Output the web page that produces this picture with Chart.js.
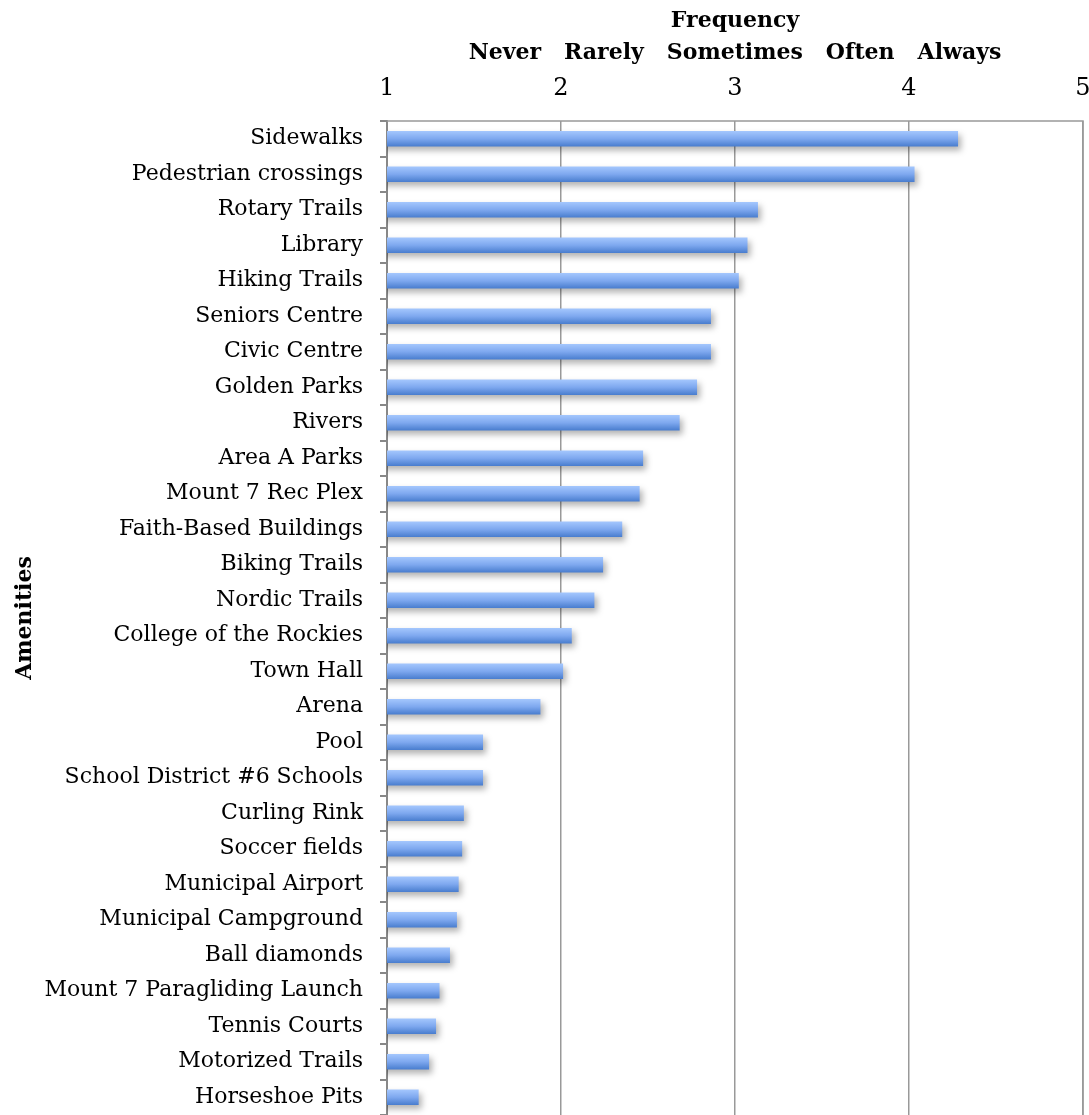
<!DOCTYPE html>
<html>
<head>
<meta charset="utf-8">
<script src="https://cdn.jsdelivr.net/npm/chart.js@4/dist/chart.umd.min.js"></script>
<style>
  html, body { margin: 0; padding: 0; background: #fff; }
  #wrap { width: 1089px; height: 1115px; }
</style>
</head>
<body>
<div id="wrap"><canvas id="myChart" width="1089" height="1115"></canvas></div>
<script>
const amenities = [
  'Sidewalks', 'Pedestrian crossings', 'Rotary Trails', 'Library', 'Hiking Trails',
  'Seniors Centre', 'Civic Centre', 'Golden Parks', 'Rivers', 'Area A Parks',
  'Mount 7 Rec Plex', 'Faith-Based Buildings', 'Biking Trails', 'Nordic Trails',
  'College of the Rockies', 'Town Hall', 'Arena', 'Pool', 'School District #6 Schools',
  'Curling Rink', 'Soccer fields', 'Municipal Airport', 'Municipal Campground',
  'Ball diamonds', 'Mount 7 Paragliding Launch', 'Tennis Courts', 'Motorized Trails',
  'Horseshoe Pits'
];
const frequency = [
  4.28, 4.03, 3.13, 3.07, 3.02,
  2.86, 2.86, 2.78, 2.68, 2.47,
  2.45, 2.35, 2.24, 2.19,
  2.06, 2.01, 1.88, 1.55, 1.55,
  1.44, 1.43, 1.41, 1.40,
  1.36, 1.30, 1.28, 1.24,
  1.18
];
const scaleLabels = ['Never', 'Rarely', 'Sometimes', 'Often', 'Always'];

const serif = '"DejaVu Serif", "Liberation Serif", serif';

// soft drop shadow under the bars
const barShadow = {
  id: 'barShadow',
  beforeDatasetsDraw(chart) {
    const ctx = chart.ctx;
    ctx.save();
    ctx.shadowColor = 'rgba(0,0,0,0.3)';
    ctx.shadowBlur = 6;
    ctx.shadowOffsetX = 3;
    ctx.shadowOffsetY = 4;
  },
  afterDatasetsDraw(chart) {
    chart.ctx.restore();
  }
};

// frame around the plot on the top and right
const plotFrame = {
  id: 'plotFrame',
  afterDraw(chart) {
    const { ctx, chartArea } = chart;
    ctx.save();
    ctx.strokeStyle = '#999';
    ctx.lineWidth = 1.5;
    ctx.beginPath();
    ctx.moveTo(chartArea.left, chartArea.top);
    ctx.lineTo(chartArea.right, chartArea.top);
    ctx.lineTo(chartArea.right, chartArea.bottom);
    ctx.stroke();
    ctx.restore();
  }
};

function barFill(context) {
  const chart = context.chart;
  if (!chart.chartArea || !chart.scales.y) return '#7aa6ea';
  const y = chart.scales.y.getPixelForValue(context.dataIndex);
  const g = chart.ctx.createLinearGradient(0, y - 7.5, 0, y + 7.5);
  g.addColorStop(0, '#a3c6fd');
  g.addColorStop(0.5, '#7ea8ef');
  g.addColorStop(1, '#4a7ecf');
  return g;
}

const ctx = document.getElementById('myChart').getContext('2d');
const myChart = new Chart(ctx, {
  type: 'bar',
  data: {
    labels: amenities,
    datasets: [{
      label: 'Frequency',
      data: frequency,
      backgroundColor: barFill,
      borderWidth: 0,
      barThickness: 15
    }]
  },
  plugins: [barShadow, plotFrame],
  options: {
    indexAxis: 'y',
    responsive: false,
    animation: false,
    layout: { padding: { top: 0, right: 6, bottom: 0, left: 0 } },
    plugins: {
      legend: { display: false },
      tooltip: { enabled: false }
    },
    scales: {
      x: {
        position: 'top',
        min: 1,
        max: 5,
        ticks: {
          stepSize: 1,
          color: '#000',
          padding: 18,
          font: { family: serif, size: 24 }
        },
        grid: { color: '#999', lineWidth: 1.5, drawTicks: false },
        border: { display: false },
        title: {
          display: true,
          text: ['Frequency', scaleLabels.join('   ')],
          color: '#000',
          font: { family: serif, size: 22, weight: 'bold', lineHeight: 1.42 },
          padding: { top: 6, bottom: 0 }
        },
        afterFit(scale) {
          scale.height = 121;
          scale.paddingLeft = 0;
          scale.paddingRight = 0;
        }
      },
      y: {
        ticks: {
          color: '#000',
          padding: 17,
          autoSkip: false,
          font: { family: serif, size: 22 }
        },
        grid: {
          offset: true,
          drawOnChartArea: false,
          drawTicks: true,
          tickLength: 7,
          color: '#888',
          lineWidth: 2
        },
        border: { color: '#888', width: 2 },
        title: {
          display: true,
          text: 'Amenities',
          color: '#000',
          font: { family: serif, size: 22, weight: 'bold' },
          padding: { top: 12, bottom: 0 }
        },
        afterFit(scale) {
          scale.width = 387;
          scale.paddingTop = 0;
          scale.paddingBottom = 0;
        }
      }
    }
  }
});
</script>
</body>
</html>
